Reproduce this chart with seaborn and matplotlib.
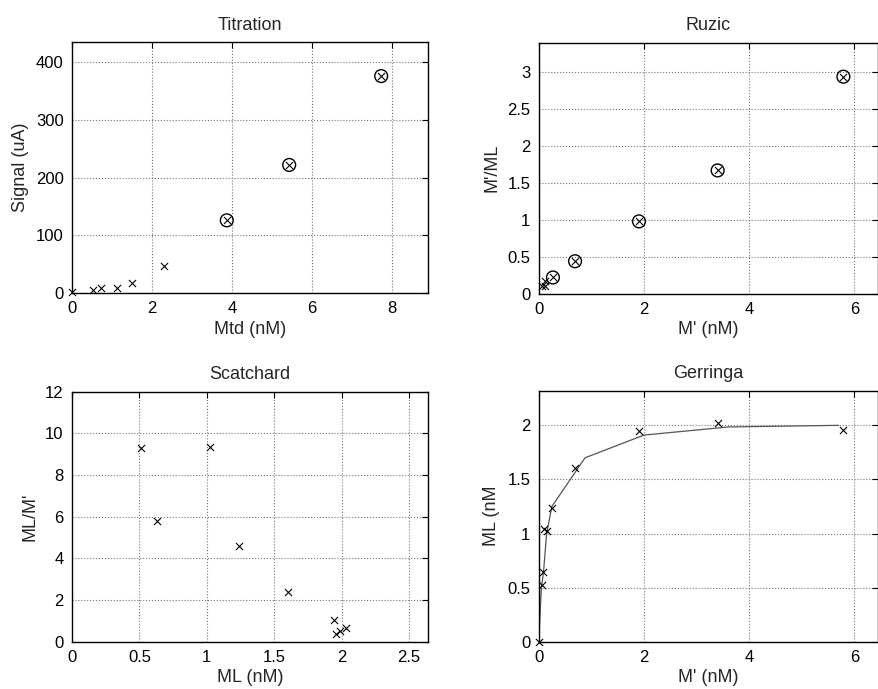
import matplotlib
matplotlib.use("Agg")
import matplotlib.pyplot as plt
import seaborn as sns
import pandas as pd
from matplotlib.ticker import FuncFormatter

sns.set_style("white")
plt.rcParams['font.family'] = ['Liberation Sans', 'DejaVu Sans']

# ---- data ----
tit_x = [0.0, 0.53, 0.72, 1.12, 1.51, 2.30, 3.87, 5.43, 7.73]
tit_y = [1, 5, 8, 8, 18, 47, 126, 222, 376]
tit_circ_x = [3.87, 5.43, 7.73]
tit_circ_y = [126, 222, 376]

ruz_x = [0.055, 0.11, 0.11, 0.27, 0.69, 1.905, 3.40, 5.79]
ruz_y = [0.108, 0.108, 0.17, 0.22, 0.44, 0.98, 1.67, 2.94]
ruz_circ_x = [0.27, 0.69, 1.905, 3.40, 5.79]
ruz_circ_y = [0.22, 0.44, 0.98, 1.67, 2.94]

sca_x = [0.514, 0.628, 1.024, 1.236, 1.605, 1.946, 1.958, 1.988, 2.033]
sca_y = [9.31, 5.79, 9.33, 4.61, 2.37, 1.04, 0.35, 0.51, 0.66]

ger_x = [0.0, 0.055, 0.09, 0.10, 0.15, 0.25, 0.69, 1.91, 3.40, 5.79]
ger_y = [0.0, 0.52, 0.64, 1.04, 1.02, 1.24, 1.61, 1.95, 2.02, 1.96]
fit_x = [0.0, 0.05, 0.09, 0.15, 0.25, 0.88, 2.0, 3.6, 5.7]
fit_y = [0.0, 0.50, 0.64, 1.0, 1.25, 1.70, 1.91, 1.985, 2.0]

fig = plt.figure(figsize=(8.79, 6.89), dpi=100)

boxes = {
    'tit': [0.0819, 0.5747, 0.4050, 0.3643],
    'ruz': [0.6129, 0.5737, 0.3861, 0.3643],
    'sca': [0.0819, 0.0687, 0.4050, 0.3628],
    'ger': [0.6129, 0.0687, 0.3861, 0.3642],
}
axs = {k: fig.add_axes(v) for k, v in boxes.items()}

fmt = FuncFormatter(lambda v, p: ('%g' % v))

def style(ax, title, xl, yl, xlim, ylim, xt, yt):
    ax.set_xlim(*xlim)
    ax.set_ylim(*ylim)
    ax.set_xticks(xt)
    ax.set_yticks(yt)
    ax.xaxis.set_major_formatter(fmt)
    ax.yaxis.set_major_formatter(fmt)
    ax.set_title(title, fontsize=13, pad=9)
    ax.set_xlabel(xl, fontsize=13, labelpad=3)
    ax.set_ylabel(yl, fontsize=13, labelpad=5)
    ax.tick_params(direction='in', top=True, right=True, length=4, width=0.8,
                   labelsize=12, colors='black', pad=6)
    ax.grid(True, linestyle=':', color='#777777', linewidth=0.8)
    ax.set_axisbelow(True)
    for s in ax.spines.values():
        s.set_visible(True)
        s.set_color('black')
        s.set_linewidth(1.0)

def crosses(ax, x, y, s=26):
    sns.scatterplot(x=x, y=y, ax=ax, marker='x', color='black', s=s,
                    linewidth=0.8, legend=False, clip_on=False, zorder=3)

def circles(ax, x, y):
    sns.scatterplot(x=x, y=y, ax=ax, marker='o', facecolors='none',
                    edgecolor='black', s=85, linewidth=1.0, legend=False,
                    zorder=3)

ax = axs['tit']
crosses(ax, tit_x, tit_y)
circles(ax, tit_circ_x, tit_circ_y)
style(ax, 'Titration', 'Mtd (nM)', 'Signal (uA)', (0, 8.9), (0, 435),
      [0, 2, 4, 6, 8], [0, 100, 200, 300, 400])

ax = axs['ruz']
crosses(ax, ruz_x, ruz_y)
circles(ax, ruz_circ_x, ruz_circ_y)
style(ax, 'Ruzic', "M' (nM)", "M'/ML", (0, 6.45), (0, 3.4),
      [0, 2, 4, 6], [0, 0.5, 1, 1.5, 2, 2.5, 3])

ax = axs['sca']
crosses(ax, sca_x, sca_y)
style(ax, 'Scatchard', 'ML (nM)', "ML/M'", (0, 2.64), (0, 12),
      [0, 0.5, 1, 1.5, 2, 2.5], [0, 2, 4, 6, 8, 10, 12])

ax = axs['ger']
fit = pd.DataFrame({'x': fit_x, 'y': fit_y})
sns.lineplot(data=fit, x='x', y='y', ax=ax, sort=False, color='#555555',
             linewidth=0.9, legend=False)
crosses(ax, ger_x, ger_y)
style(ax, 'Gerringa', "M' (nM)", 'ML (nM', (0, 6.45), (0, 2.32),
      [0, 2, 4, 6], [0, 0.5, 1, 1.5, 2])

fig.savefig('out.png', dpi=100)
